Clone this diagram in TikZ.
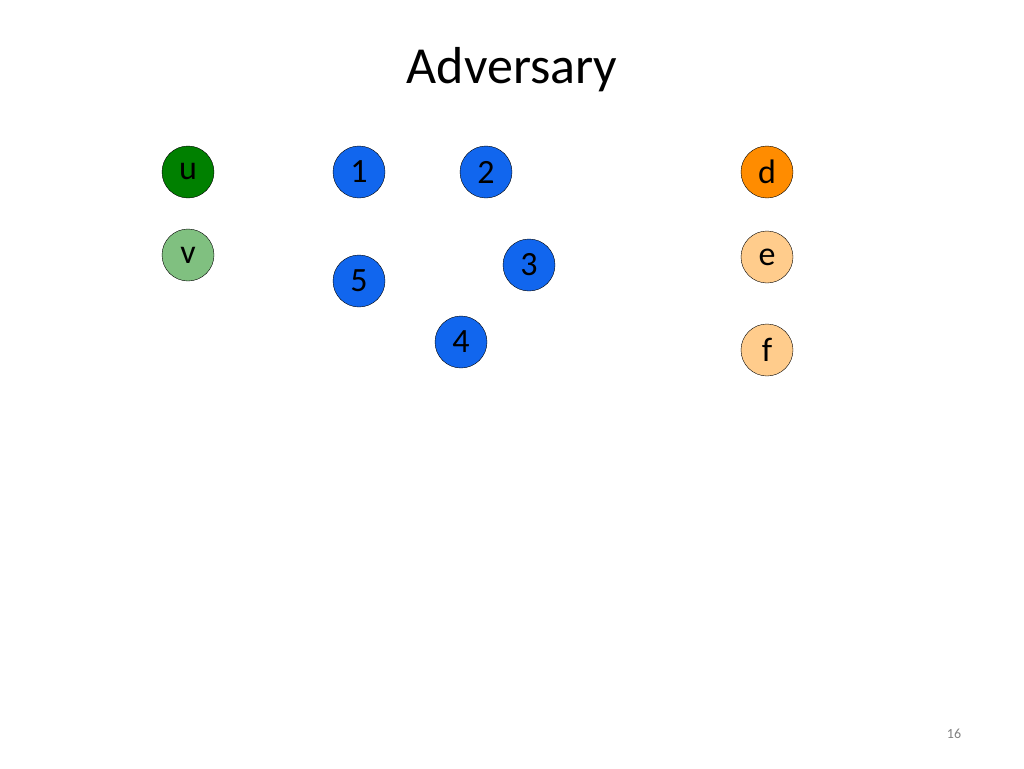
\documentclass[tikz,border=0pt]{standalone}
\usepackage{fontspec}
\setmainfont{Carlito}
\definecolor{dgreen}{RGB}{0,128,0}
\definecolor{lgreen}{RGB}{128,192,128}
\definecolor{nblue}{RGB}{17,102,238}
\definecolor{dorange}{RGB}{255,140,0}
\definecolor{lorange}{RGB}{255,204,140}
\tikzset{
  vtx/.style={circle, draw=black, thin, minimum size=52pt, inner sep=0pt,
    font=\fontsize{34}{34}\selectfont},
}
\begin{document}
\begin{tikzpicture}[x=1pt,y=-1pt]

  % Cadre
  \useasboundingbox (0,0) rectangle (1024,768);

  % Titre
  \node (titre) at (512,70) {\fontsize{52}{52}\selectfont Adversary};

  % Sommets
  \node[vtx, fill=dgreen] (u) at (188,172) {u};
  \node[vtx, fill=lgreen] (v) at (188,255) {v};
  \node[vtx, fill=nblue] (n1) at (359,172) {1};
  \node[vtx, fill=nblue] (n2) at (486,172) {2};
  \node[vtx, fill=nblue] (n3) at (529,265) {3};
  \node[vtx, fill=nblue] (n5) at (359,281) {5};
  \node[vtx, fill=nblue] (n4) at (461,342) {4};
  \node[vtx, fill=dorange] (d) at (767,172) {d};
  \node[vtx, fill=lorange] (e) at (767,257) {e};
  \node[vtx, fill=lorange] (f) at (767,350) {f};

  % Numero de page
  \node[text=gray] (page) at (954,734) {\fontsize{14}{14}\selectfont 16};

\end{tikzpicture}
\end{document}
